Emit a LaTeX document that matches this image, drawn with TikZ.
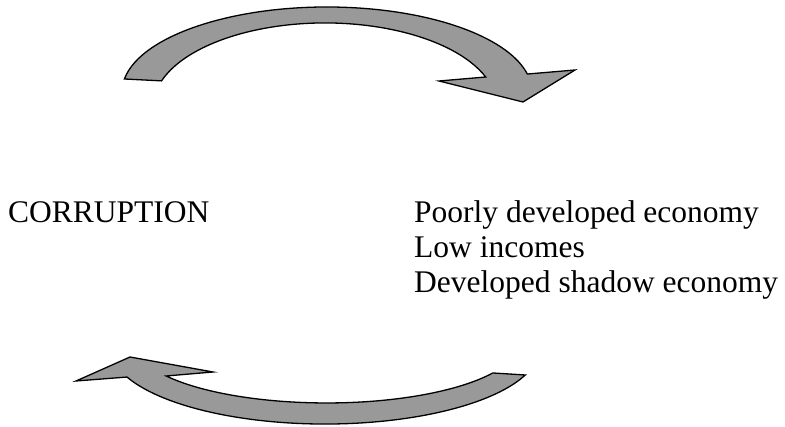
\documentclass[tikz,border=0pt]{standalone}
\usepackage{fontspec}
\setmainfont{Liberation Serif}
\definecolor{arrowgray}{RGB}{153,153,153}
\begin{document}
\begin{tikzpicture}[x=1pt,y=1pt,
  bigarrow/.style={draw=black,fill=arrowgray,line width=1.3pt,line join=miter},
  label/.style={anchor=base west,inner sep=0pt,font=\fontsize{31.5}{36.5}\selectfont}]
\useasboundingbox (0,0) rectangle (785,427);
% top arrow (left to right)
\path[bigarrow] (124.4,348) arc[start angle=171.2,end angle=12.2,x radius=205,y radius=85]
  -- (575,357) -- (523,325) -- (439,346) -- (485.7,350)
  arc[start angle=20.9,end angle=161.9,x radius=172,y radius=84] -- cycle;
% bottom arrow (right to left)
\path[bigarrow] (525.3,52) arc[start angle=-21.3,end angle=-157.05,x radius=215,y radius=77]
  -- (76,46) -- (130,70) -- (213,55) -- (166.2,51)
  arc[start angle=213.4,end angle=330,x radius=192,y radius=60] -- cycle;
% texts
\node[label] (corr) at (8,204) {CORRUPTION};
\node[label] (l1) at (414,204) {Poorly developed economy};
\node[label] (l2) at (414,169) {Low incomes};
\node[label] (l3) at (414,134) {Developed shadow economy};
\end{tikzpicture}
\end{document}
